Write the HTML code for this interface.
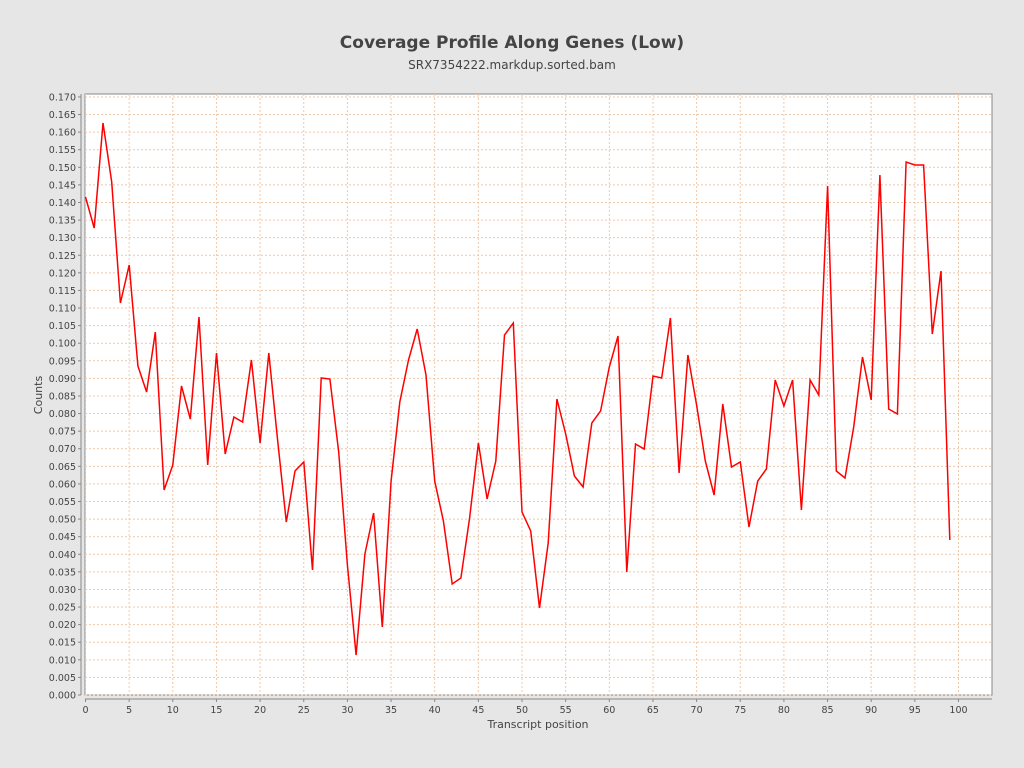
<!DOCTYPE html>
<html><head><meta charset="utf-8"><style>
body{margin:0;background:#e6e6e6;}
svg{display:block;font-family:"DejaVu Sans","Liberation Sans",sans-serif;}
</style></head><body>
<svg id="s" width="1024" height="768" xmlns="http://www.w3.org/2000/svg">
<rect width="1024" height="768" fill="#e6e6e6"/>
<text x="512" y="48" text-anchor="middle" font-size="17" font-weight="bold" fill="#444">Coverage Profile Along Genes (Low)</text>
<text x="512" y="69" text-anchor="middle" font-size="12" fill="#444">SRX7354222.markdup.sorted.bam</text>
<rect x="85" y="94" width="907" height="601" fill="#fff" stroke="#888"/>
<g id="g"></g>
<text x="538" y="728" text-anchor="middle" font-size="11" fill="#444">Transcript position</text>
<text transform="translate(42,395) rotate(-90)" text-anchor="middle" font-size="11" fill="#444">Counts</text>
</svg>
<script>
var g=document.getElementById('g'),h='';
function X(i){return 85.5+8.73*i;}
function Y(v){return 695-v/0.005*17.59;}
for(var k=0;k<=34;k++){var y=Y(k*0.005);
 h+='<line x1="85" x2="992" y1="'+y+'" y2="'+y+'" stroke="#f0c8a8" stroke-dasharray="2,2"/>';
 h+='<line x1="78" x2="81" y1="'+y+'" y2="'+y+'" stroke="#888"/>';
 h+='<text x="76" y="'+(y+3.5)+'" text-anchor="end" font-size="9.5" fill="#444">'+(k*0.005).toFixed(3)+'</text>';}
for(var k=0;k<=20;k++){var x=X(k*5);
 h+='<line y1="94" y2="695" x1="'+x+'" x2="'+x+'" stroke="#f0c8a8" stroke-dasharray="2,2"/>';
 h+='<line y1="699" y2="702" x1="'+x+'" x2="'+x+'" stroke="#888"/>';
 h+='<text y="713" x="'+x+'" text-anchor="middle" font-size="9.5" fill="#444">'+(k*5)+'</text>';}
h+='<line x1="81" x2="81" y1="94" y2="695" stroke="#888"/><line x1="85" x2="992" y1="699" y2="699" stroke="#888"/>';
var p=[197,228,123,182,303,265,366,392,332,490,465,386,419,317,465,353,454,417,422,360,443,353,440,522,471,462,570,378,379,452,565,655,554,513,627,481,402,360,329,375,481,521,584,578,518,443,499,461,335,323,512,531,608,543,399,434,476,487,423,411,367,336,572,444,449,376,378,318,473,355,405,461,495,404,467,462,527,481,469,380,406,380,510,380,395,186,471,478,427,357,400,175,409,414,162,165,165,334,271,540];
var pts=p.map(function(y,i){return X(i).toFixed(1)+','+y;}).join(' ');
h+='<polyline points="'+pts+'" fill="none" stroke="#f00" stroke-width="1.5"/>';
g.innerHTML=h;
</script>
</body></html>
